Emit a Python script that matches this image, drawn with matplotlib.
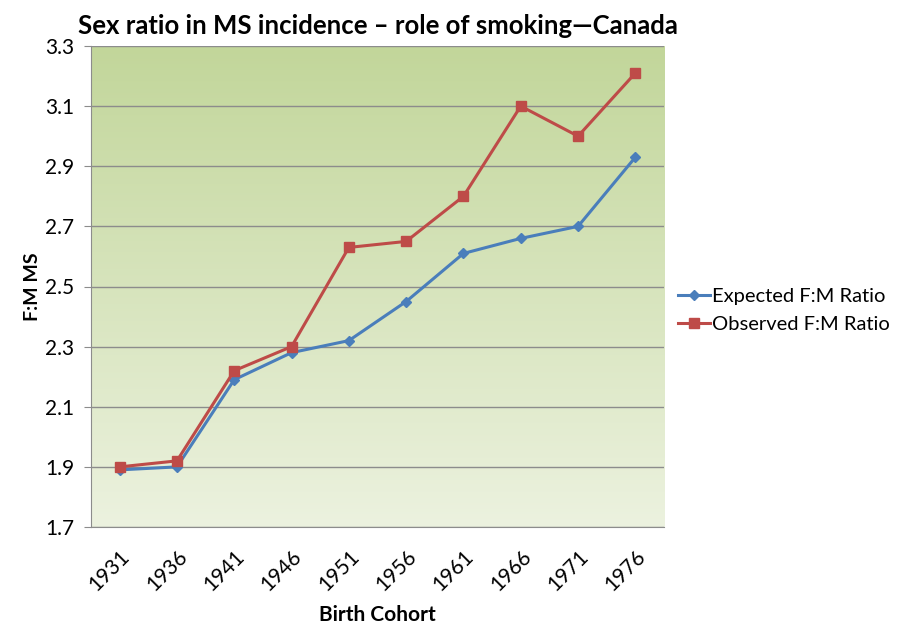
import matplotlib
matplotlib.use("Agg")
import matplotlib.pyplot as plt
import numpy as np
from matplotlib.colors import LinearSegmentedColormap

plt.rcParams['font.family'] = ['Lato', 'DejaVu Sans']

cohorts = ['1931', '1936', '1941', '1946', '1951', '1956', '1961', '1966', '1971', '1976']
expected = [1.89, 1.90, 2.19, 2.28, 2.32, 2.45, 2.61, 2.66, 2.70, 2.93]
observed = [1.90, 1.92, 2.22, 2.30, 2.63, 2.65, 2.80, 3.10, 3.00, 3.21]
yticks = [1.7, 1.9, 2.1, 2.3, 2.5, 2.7, 2.9, 3.1, 3.3]

fig = plt.figure(figsize=(8.97, 6.23), dpi=100)
ax = fig.add_axes([91/897, 1-527/623, (664-91)/897, (527-46)/623])

x = np.arange(len(cohorts))
ax.set_xlim(-0.5, len(cohorts)-0.5)
ax.set_ylim(1.7, 3.3)

# gradient background
cmap = LinearSegmentedColormap.from_list('g', ['#ECF2DF', '#C2D69A'])
grad = np.linspace(0, 1, 256).reshape(-1, 1)
ax.imshow(grad, cmap=cmap, aspect='auto', extent=[0, 1, 0, 1],
          transform=ax.transAxes, origin='lower', zorder=0)

ax.set_yticks(yticks)
ax.set_yticklabels([f'{v:.1f}' for v in yticks])
for v in yticks:
    ax.axhline(v, color='#8C8C8C', lw=1, zorder=1)

ax.plot(x, expected, color='#4A7EBB', lw=2.2, marker='D', ms=5, zorder=3,
        label='Expected F:M Ratio')
ax.plot(x, observed, color='#BE4B48', lw=2.2, marker='s', ms=6.5, zorder=3,
        label='Observed F:M Ratio')

ax.set_xticks(x)
ax.set_xticklabels(cohorts, rotation=45, ha='right', rotation_mode='anchor')

for s in ['top', 'right']:
    ax.spines[s].set_visible(False)
for s in ['left', 'bottom']:
    ax.spines[s].set_color('#8C8C8C')
ax.tick_params(axis='y', length=5, color='#8C8C8C', labelsize=15, pad=7)
ax.tick_params(axis='x', length=0, labelsize=15, pad=14)

ax.set_ylabel('F:M MS', fontsize=14, fontweight='bold', labelpad=3)
ax.set_xlabel('Birth Cohort', fontsize=15, fontweight='bold', labelpad=7)
ax.set_title('Sex ratio in MS incidence \u2013 role of smoking\u2014Canada',
             fontsize=18.5, fontweight='bold', pad=9)

ax.legend(loc='center left', bbox_to_anchor=(1.0, 0.45), frameon=False,
          fontsize=14.5, handlelength=1.6, handletextpad=0.1, labelspacing=0.55,
          borderaxespad=0.3)

fig.savefig('out.png', dpi=100)
